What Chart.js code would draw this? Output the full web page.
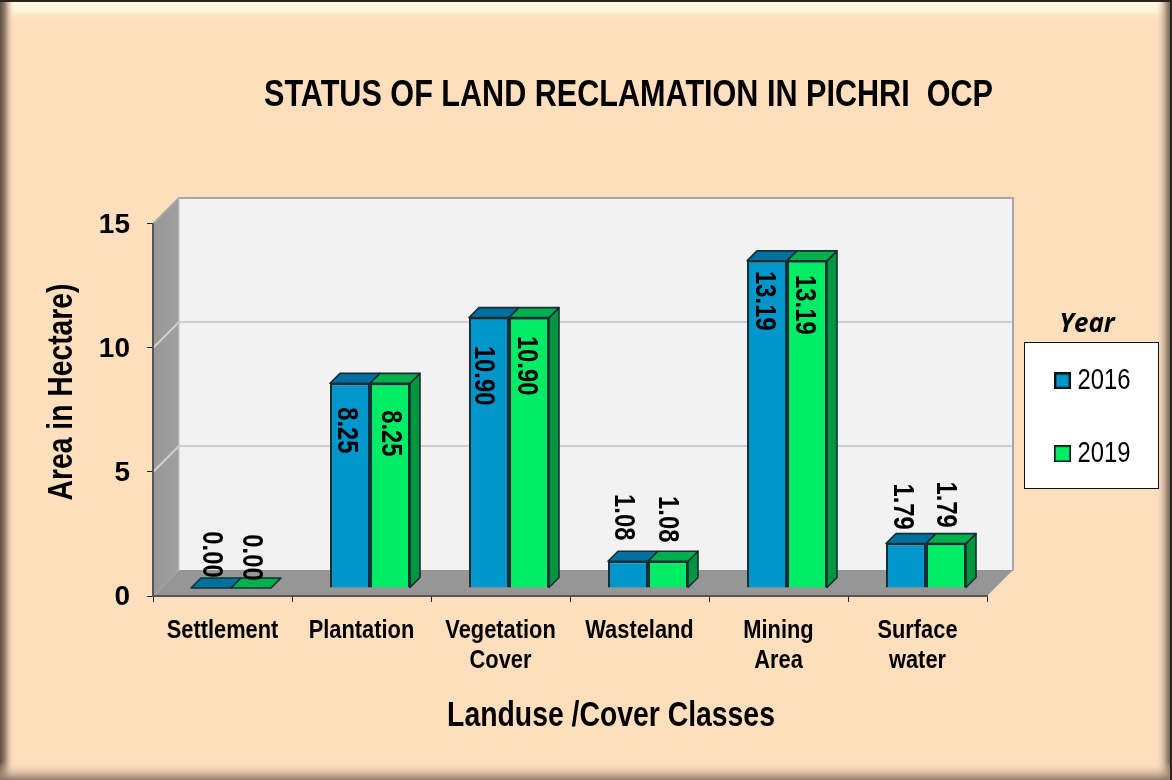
<!DOCTYPE html>
<html><head><meta charset="utf-8">
<script src="https://cdn.jsdelivr.net/npm/chart.js@4"></script>
<style>html,body{margin:0;padding:0;background:#fddfbe}canvas{display:block}</style>
</head><body><canvas id="c" width="1172" height="780"></canvas>
<script>
const categories = [['Settlement'], ['Plantation'], ['Vegetation','Cover'], ['Wasteland'], ['Mining','Area'], ['Surface','water']];
const values2016 = [0.00, 8.25, 10.90, 1.08, 13.19, 1.79];
const values2019 = [0.00, 8.25, 10.90, 1.08, 13.19, 1.79];
const seriesNames = ['2016', '2019'];
const yTicks = [0, 5, 10, 15];
const chartTitle = 'STATUS OF LAND RECLAMATION IN PICHRI  OCP';
const xTitle = 'Landuse /Cover Classes';
const yTitle = 'Area in Hectare)';
const legendTitle = 'Year';

// label placement relative to each bar's front-top centre
const labelNudge2016 = [[1,-33.5],[-3,47],[-5,58],[-4,-44],[-2,40],[-3,-37]];
const labelNudge2019 = [[1,-30.5],[1,50],[-2,48],[0,-42],[-2,44],[0,-39]];

const NARROW = "'Liberation Sans',Arial,sans-serif";
const SQUEEZE = 0.82, SQUEEZE_TICKS_X = 0.84;
const SIZE_TICK_X = 26, SIZE_TICK_Y = 28;
const WALL = 26, BAR_DX = 8.5, BAR_DY = 8, BAR_DEPTH = 10;
const FILL = ['#0096cc', '#00ec66'], TOP = ['#00719f', '#00b04d'], SIDE = ['#005f86', '#00953f'];
const EDGE = '#162f34';

function poly(ctx, pts, fill, stroke, lw) {
  ctx.beginPath();
  pts.forEach((p, i) => i ? ctx.lineTo(p[0], p[1]) : ctx.moveTo(p[0], p[1]));
  ctx.closePath();
  if (fill) { ctx.fillStyle = fill; ctx.fill(); }
  if (stroke) { ctx.strokeStyle = stroke; ctx.lineWidth = lw || 1; ctx.stroke(); }
}
function swatch(fill, lw) {
  const c = document.createElement('canvas'); c.width = 17; c.height = 17;
  const g = c.getContext('2d');
  g.fillStyle = fill; g.fillRect(0, 0, 17, 17);
  g.strokeStyle = '#0c1414'; g.lineWidth = lw; g.strokeRect(lw/2, lw/2, 17-lw, 17-lw);
  return c;
}
const swatches = [swatch(FILL[0], 2.4), swatch(FILL[1], 1.6)];

const frame = {
  id: 'frame',
  beforeInit(chart) {
    // the reference type is condensed: Liberation text is set narrower
    const ctx = chart.ctx, ft = ctx.fillText.bind(ctx);
    ctx.fillText = (t, x, y) => {
      if (!ctx.font.includes('Liberation')) return ft(t, x, y);
      const size = parseFloat(ctx.font.match(/([\d.]+)px/)[1]);
      if (size === SIZE_TICK_Y) return ft(t, x, y + 1.5);
      const k = size === SIZE_TICK_X ? SQUEEZE_TICKS_X : SQUEEZE;
      ft(t, x, y, ctx.measureText(t).width * k);
    };
  },
  beforeLayout(chart) {
    const lg = chart.legend;
    if (lg && !lg._wrapped) {
      const fit = lg.fit;
      lg.fit = function () { fit.call(this); this.width = 185; };
      lg._wrapped = true;
    }
  },
  beforeDraw(chart) {
    const { ctx, width: W, height: H, scales: { x, y } } = chart;
    ctx.save();
    ctx.fillStyle = '#fddfbe'; ctx.fillRect(0, 0, W, H);
    let g = ctx.createLinearGradient(0, 0, 0, 20);
    g.addColorStop(0, '#fffbe6'); g.addColorStop(0.55, '#fff4d8'); g.addColorStop(1, 'rgba(253,223,190,0)');
    ctx.fillStyle = g; ctx.fillRect(0, 0, W, 20);
    g = ctx.createLinearGradient(0, 0, 14, 0);
    g.addColorStop(0, '#5a4c40'); g.addColorStop(0.4, '#a08a75'); g.addColorStop(1, 'rgba(253,223,190,0)');
    ctx.fillStyle = g; ctx.fillRect(0, 0, 14, H);
    g = ctx.createLinearGradient(W - 16, 0, W, 0);
    g.addColorStop(0, 'rgba(253,223,190,0)'); g.addColorStop(0.7, '#9c8674'); g.addColorStop(1, '#5c4e43');
    ctx.fillStyle = g; ctx.fillRect(W - 16, 0, 16, H);
    g = ctx.createLinearGradient(0, H - 18, 0, H);
    g.addColorStop(0, 'rgba(253,223,190,0)'); g.addColorStop(1, '#8f7a68');
    ctx.fillStyle = g; ctx.fillRect(0, H - 18, W, 18);
    ctx.fillStyle = '#2a2420'; ctx.fillRect(0, 0, W, 2); ctx.fillRect(W - 2, 0, 2, H);

    // position the title and legend blocks
    const tb = chart.titleBlock;
    if (tb) { const cx = 628.5, hw = 500; tb.left = cx - hw; tb.right = cx + hw; }
    const lg = chart.legend;
    lg.left = 1018; lg.width = 138; lg.right = 1156; lg.top = 311.7;

    // white legend panel
    ctx.fillStyle = '#fff'; ctx.fillRect(1024.5, 342.5, 134, 146);
    ctx.strokeStyle = '#111'; ctx.lineWidth = 1; ctx.strokeRect(1024.5, 342.5, 134, 146);

    // walls and floor follow the scales
    const L = x.left, R = x.right, B = y.getPixelForValue(0), T = y.getPixelForValue(15);
    poly(ctx, [[L + WALL, T - WALL], [R + WALL, T - WALL], [R + WALL, B - WALL], [L + WALL, B - WALL]], '#f2f2f2');
    g = ctx.createLinearGradient(L, 0, L + WALL, 0);
    g.addColorStop(0, '#979797'); g.addColorStop(1, '#a0a0a0');
    poly(ctx, [[L, T], [L + WALL, T - WALL], [L + WALL, B - WALL], [L, B]], g);
    poly(ctx, [[L, B], [L + WALL, B - WALL], [R + WALL, B - WALL], [R, B]], '#969696');
    ctx.lineCap = 'round';
    ctx.strokeStyle = '#cfcfcf'; ctx.lineWidth = 2;
    yTicks.filter(v => v > 0 && v < 15).forEach(v => {
      const p = y.getPixelForValue(v);
      ctx.beginPath(); ctx.moveTo(L, p); ctx.lineTo(L + WALL, p - WALL); ctx.lineTo(R + WALL, p - WALL); ctx.stroke();
    });
    ctx.strokeStyle = '#a6a6a6'; ctx.lineWidth = 2;
    ctx.beginPath(); ctx.moveTo(L, T); ctx.lineTo(L + WALL, T - WALL); ctx.lineTo(R + WALL, T - WALL); ctx.lineTo(R + WALL, B - WALL); ctx.stroke();
    ctx.strokeStyle = '#c4c4c4'; ctx.lineWidth = 1;
    ctx.beginPath(); ctx.moveTo(L + WALL, T - WALL); ctx.lineTo(L + WALL, B - WALL); ctx.stroke();
    ctx.restore();

    // shift axis titles to where the reference has them
    const shift = (scale, dx, dy) => {
      if (scale._shifted) return;
      const dt = scale.drawTitle;
      scale.drawTitle = function () { const c = this.ctx; c.save(); c.translate(dx, dy); dt.call(this); c.restore(); };
      scale._shifted = true;
    };
    shift(x, 41, 0); shift(y, 0, -18);
  },
  beforeDatasetDraw(chart) {
    chart.ctx.save(); chart.ctx.translate(BAR_DX, -BAR_DY);
  },
  afterDatasetDraw(chart) { chart.ctx.restore(); },
  beforeDatasetsDraw(chart) {
    const { ctx } = chart, d = BAR_DEPTH;
    ctx.save(); ctx.lineJoin = 'round';
    [0, 1].forEach(s => {
      chart.getDatasetMeta(s).data.forEach(el => {
        const l = el.x - el.width / 2 + BAR_DX, r = el.x + el.width / 2 + BAR_DX;
        const t = el.y - BAR_DY, b = el.base - BAR_DY;
        if (s === 1 && b > t) poly(ctx, [[r, t], [r + d, t - d], [r + d, b - d], [r, b]], SIDE[s], EDGE, 1.6);
        poly(ctx, [[l, t], [l + d, t - d], [r + d, t - d], [r, t]], TOP[s], EDGE, 1.6);
      });
    });
    ctx.restore();
  },
  afterDatasetsDraw(chart) {
    const { ctx } = chart;
    ctx.save();
    ctx.fillStyle = '#000';
    ctx.font = "bold 29px " + NARROW;
    ctx.textAlign = 'center'; ctx.textBaseline = 'middle';
    [[values2016, labelNudge2016], [values2019, labelNudge2019]].forEach(([vals, nudge], s) => {
      chart.getDatasetMeta(s).data.forEach((el, i) => {
        ctx.save();
        ctx.translate(el.x + BAR_DX + nudge[i][0], el.y - BAR_DY + nudge[i][1]);
        ctx.rotate(Math.PI / 2);
        ctx.fillText(vals[i].toFixed(2), 0, 1);
        ctx.restore();
      });
    });
    ctx.restore();
  }
};

new Chart(document.getElementById('c'), {
  type: 'bar',
  data: {
    labels: categories,
    datasets: [
      { label: seriesNames[0], data: values2016, backgroundColor: FILL[0], borderColor: EDGE, borderWidth: 2 },
      { label: seriesNames[1], data: values2019, backgroundColor: FILL[1], borderColor: EDGE, borderWidth: 2 }
    ]
  },
  options: {
    responsive: false, animation: false,
    layout: { padding: 0 },
    datasets: { bar: { barPercentage: 1, categoryPercentage: 0.5755 } },
    plugins: {
      tooltip: { enabled: false },
      title: {
        display: true, text: chartTitle, color: '#000',
        font: { family: NARROW, size: 37.3, weight: 'bold', lineHeight: 1.2 },
        padding: { top: 73, bottom: 106.2 }
      },
      legend: {
        position: 'right', align: 'start',
        title: { display: true, text: legendTitle, color: '#000', position: 'center',
          font: { family: "'Open Sans'", size: 26, style: 'italic', weight: 'bold', lineHeight: 1.1 },
          padding: { top: 0, bottom: -18.1 } },
        labels: {
          color: '#000', font: { family: NARROW, size: 29 }, padding: 44,
          usePointStyle: true, boxHeight: 2, pointStyleWidth: 1,
          generateLabels(chart) {
            return Chart.defaults.plugins.legend.labels.generateLabels(chart)
              .map((it, i) => Object.assign(it, { pointStyle: swatches[i] }));
          }
        }
      }
    },
    scales: {
      x: {
        afterFit(s) { s.height = 184; },
        grid: { drawOnChartArea: false, color: '#222', tickLength: 6, lineWidth: 1 },
        border: { color: '#555', width: 2 },
        ticks: { color: '#000', font: { family: NARROW, size: SIZE_TICK_X, weight: 'bold', lineHeight: 1.15 }, padding: 14, maxRotation: 0, autoSkip: false },
        title: { display: true, text: xTitle, color: '#000', font: { family: NARROW, size: 34.6, weight: 'bold', lineHeight: 1.2 }, padding: { top: 0, bottom: 43 } }
      },
      y: {
        min: 0, max: 15,
        afterFit(s) { s.width = 153; },
        afterBuildTicks(s) { s.ticks = yTicks.map(v => ({ value: v })); },
        grid: { drawOnChartArea: false, color: '#222', tickLength: 6, lineWidth: 1 },
        border: { color: '#555', width: 2 },
        ticks: { color: '#000', font: { family: NARROW, size: SIZE_TICK_Y, weight: 'bold' }, padding: 17 },
        title: { display: true, text: yTitle, color: '#000', font: { family: NARROW, size: 34.5, weight: 'bold', lineHeight: 1.2 }, padding: { top: 42, bottom: 0 } }
      }
    }
  },
  plugins: [frame]
});
</script></body></html>
